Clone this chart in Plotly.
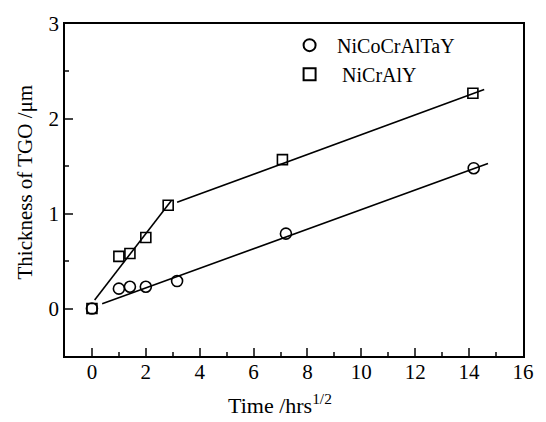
import plotly.graph_objects as go

# Data
x_nicocraltay = [0, 1.0, 1.41, 2.0, 3.16, 7.2, 14.17]
y_nicocraltay = [0, 0.21, 0.23, 0.23, 0.29, 0.79, 1.48]

x_nicraly = [0, 1.0, 1.41, 2.0, 2.83, 7.07, 14.14]
y_nicraly = [0, 0.55, 0.58, 0.75, 1.09, 1.57, 2.27]

# Linear fit lines (endpoints)
fit1_x = [0.38, 14.7]
fit1_y = [0.05, 1.53]
fit2a_x = [0.1, 2.95]
fit2a_y = [0.09, 1.14]
fit2b_x = [3.16, 14.56]
fit2b_y = [1.12, 2.31]

FONT = "Liberation Serif, Times New Roman, serif"

fig = go.Figure()
for fx, fy in [(fit1_x, fit1_y), (fit2a_x, fit2a_y), (fit2b_x, fit2b_y)]:
    fig.add_trace(go.Scatter(x=fx, y=fy, mode="lines",
                             line=dict(color="black", width=1.6),
                             showlegend=False, hoverinfo="skip"))

fig.add_trace(go.Scatter(x=x_nicocraltay, y=y_nicocraltay, mode="markers",
                         name="NiCoCrAlTaY",
                         marker=dict(symbol="circle-open", size=11,
                                     color="black", line=dict(width=1.6))))
fig.add_trace(go.Scatter(x=x_nicraly, y=y_nicraly, mode="markers",
                         name=" NiCrAlY",
                         marker=dict(symbol="square-open", size=10,
                                     color="black", line=dict(width=1.6))))

fig.update_layout(
    width=546, height=422,
    margin=dict(l=65, r=19, t=16, b=66),
    paper_bgcolor="white", plot_bgcolor="white",
    font=dict(family=FONT, size=20, color="black"),
    legend=dict(x=0.474, y=0.995, xanchor="left", yanchor="top",
                bgcolor="rgba(0,0,0,0)", font=dict(size=20, family=FONT),
                itemsizing="constant", itemwidth=45, tracegroupgap=0),
    xaxis=dict(range=[-1, 16], tickmode="array",
               tickvals=[0, 2, 4, 6, 8, 10, 12, 14, 16],
               ticks="inside", ticklen=8, tickwidth=1.5,
               showline=True, linecolor="black", linewidth=1.8, mirror=True,
               showgrid=False, zeroline=False, ticklabelstandoff=-4,
               minor=dict(ticks="inside", dtick=1, tick0=0, ticklen=4,
                          tickwidth=1.5, showgrid=False),
               tickfont=dict(size=21, family=FONT)),
    yaxis=dict(range=[-0.5, 3], tickmode="array", tickvals=[0, 1, 2, 3],
               ticks="inside", ticklen=8, tickwidth=1.5,
               showline=True, linecolor="black", linewidth=1.8, mirror=True,
               showgrid=False, zeroline=False,
               minor=dict(ticks="inside", dtick=0.5, tick0=0, ticklen=4,
                          tickwidth=1.5, showgrid=False),
               tickfont=dict(size=21, family=FONT)),
    annotations=[
        dict(text="Time /hrs<sup>1/2</sup>", xref="paper", yref="paper",
             x=(282 - 65) / 462, y=-(405 - 356) / 340, xanchor="center",
             yanchor="middle", showarrow=False,
             font=dict(size=22, family=FONT)),
        dict(text="Thickness of TGO /μm", xref="paper", yref="paper",
             x=-(65 - 25) / 462, y=(356 - 178) / 340, xanchor="center",
             yanchor="middle", showarrow=False, textangle=-90,
             font=dict(size=21, family=FONT)),
    ],
)

fig.write_html("out.html")
